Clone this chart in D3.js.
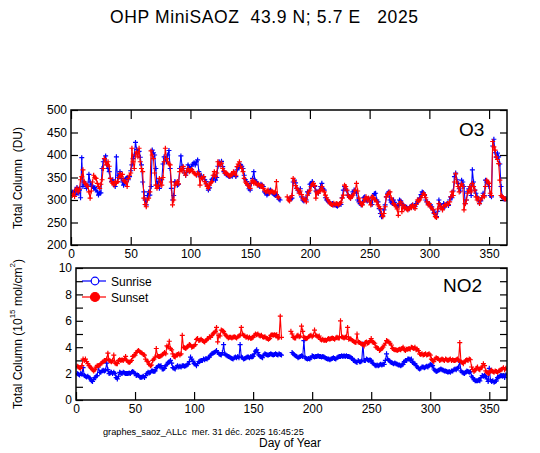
<!DOCTYPE html>
<html><head><meta charset="utf-8">
<script src="https://cdn.jsdelivr.net/npm/d3@7"></script>
<style>body{margin:0;background:#fff}svg{display:block}text{font-family:"Liberation Sans",Arial,sans-serif}</style>
</head><body>
<svg id="c" width="540" height="453"></svg>
<script>
// Day of year for each value: index + 1 (days 1..364); null = no measurement
const o3Sunrise = [
318,316,320,312,328,315,322,305,394,330,
340,334,326,330,357,340,333,330,326,328,
322,318,311,315,316,370,385,392,398,378,
370,363,348,341,345,338,330,396,341,355,
363,348,340,333,338,348,350,345,352,365,
378,392,400,428,412,405,408,395,378,340,
318,300,289,310,318,311,330,411,405,400,
370,333,341,326,338,345,380,396,392,385,
400,410,370,326,300,310,341,338,333,335,
370,398,375,370,360,355,362,378,372,370,
375,380,383,378,385,389,363,352,355,348,
352,345,341,333,322,327,340,346,348,355,
344,350,375,385,380,386,374,363,360,356,
355,353,352,355,353,357,359,352,367,372,
374,378,375,370,355,345,341,333,325,322,
337,348,363,344,341,335,333,330,335,333,
330,318,315,311,314,320,322,318,315,312,
310,312,307,302,300,null,null,null,null,null,
null,null,303,302,304,340,344,338,326,322,
318,325,307,300,298,303,300,318,315,335,
337,341,332,330,320,318,315,322,330,337,
325,322,305,300,298,296,292,290,292,289,
290,288,286,289,292,290,305,322,330,325,
320,311,308,304,310,318,322,320,315,300,
296,292,289,295,305,307,300,298,304,300,
295,290,310,314,315,300,296,281,270,263,
265,278,289,307,315,318,300,295,292,300,
295,289,285,288,300,298,292,289,285,283,
284,281,280,285,287,289,284,286,292,296,
300,305,312,318,316,310,300,296,292,289,
289,285,278,272,268,263,275,300,290,285,
280,292,285,290,292,288,300,307,305,320,
352,360,345,337,325,320,344,340,330,292,
300,318,325,330,310,367,340,322,315,307,
300,292,298,305,315,310,344,340,337,330,
310,307,420,435,405,395,404,396,380,330,
307,303,302,303];

const o3Sunset = [
310,315,308,322,326,318,324,345,352,367,
340,337,333,330,318,304,320,340,355,350,
348,337,330,326,335,345,370,392,385,378,
385,375,348,340,337,333,341,338,341,350,
359,352,357,344,341,340,330,348,355,360,
415,385,370,400,407,396,415,385,370,363,
304,290,285,300,304,318,409,400,392,360,
333,326,330,348,340,333,350,385,415,392,
385,380,378,340,289,300,333,338,341,336,
363,370,365,374,360,355,365,370,363,365,
368,363,360,358,355,360,358,333,350,348,
352,341,336,330,326,333,338,341,355,363,
352,360,385,380,378,382,370,365,359,360,
358,355,352,356,358,363,360,355,374,380,
385,375,370,363,348,340,337,333,330,326,
340,344,337,340,337,333,335,333,330,333,
326,322,318,320,322,315,318,320,318,316,
318,341,307,305,null,null,null,null,null,null,
307,300,298,305,310,348,342,332,326,322,
315,320,312,304,300,302,296,311,318,322,
330,335,337,332,304,318,315,320,322,330,
322,318,311,305,300,296,292,290,289,293,
289,292,291,289,292,295,304,311,333,330,
322,311,306,304,307,311,315,322,337,320,
304,296,290,289,296,303,307,300,304,296,
289,307,306,300,300,296,289,285,281,270,
263,270,285,307,312,315,318,305,300,292,
289,285,280,266,292,296,274,289,281,285,
280,278,281,285,283,289,285,281,290,300,
298,300,305,310,315,312,305,296,289,292,
285,282,278,270,263,261,280,292,287,282,
278,285,290,288,292,290,296,307,318,310,
340,358,340,330,318,330,336,330,278,292,
300,315,322,330,318,337,330,322,307,300,
304,292,300,305,310,307,330,344,340,337,
315,310,430,418,411,396,390,381,344,310,
307,305,303,302];

const no2Sunrise = [
2.0,1.95,1.9,2.0,1.95,2.45,1.85,1.8,1.75,1.8,
1.7,1.65,1.45,1.4,1.55,1.7,1.8,1.85,2.5,2.1,
2.1,2.2,2.25,2.2,2.25,2.8,2.3,2.0,2.05,2.1,
2.0,2.1,2.0,1.7,1.6,1.8,2.1,2.05,2.0,2.1,
2.05,2.0,2.0,2.0,2.05,2.0,2.1,2.15,2.1,2.0,
1.85,1.9,1.85,1.75,1.7,1.75,1.8,1.7,1.85,2.0,
2.1,2.05,2.1,2.2,2.2,2.15,2.2,2.45,2.5,2.6,
2.55,2.6,2.35,2.35,2.4,2.6,2.7,2.85,2.9,3.0,
2.8,2.45,2.4,2.35,2.5,2.6,2.5,2.55,2.5,2.6,
2.6,2.55,2.6,2.65,2.7,2.9,3.25,3.1,2.95,2.75,
2.7,2.6,2.75,2.9,2.95,3.0,3.0,3.1,3.05,3.15,
3.1,3.2,3.25,3.4,3.5,3.55,3.6,3.65,3.75,3.6,
3.5,3.45,3.4,3.6,4.2,3.5,3.4,3.35,3.3,3.25,
3.2,3.15,3.1,3.2,3.25,3.2,3.3,3.2,4.2,3.25,
3.2,3.1,3.15,3.2,3.25,3.25,3.2,3.3,3.25,3.3,
3.5,3.7,3.8,3.6,3.4,3.3,3.25,3.2,3.4,3.5,
3.45,3.4,3.4,3.45,3.5,3.45,3.4,3.45,3.5,3.45,
3.4,3.5,3.45,3.4,null,null,null,null,null,null,
null,null,3.6,3.5,3.4,3.35,3.3,3.2,3.25,3.3,
3.35,3.3,4.5,3.2,3.15,3.1,3.15,3.1,3.2,3.35,
3.3,3.25,3.3,3.3,3.35,3.3,3.3,3.25,3.3,3.25,
3.2,3.15,3.1,3.1,3.05,3.1,3.15,3.2,3.15,3.1,
3.2,3.25,3.3,3.3,3.35,3.3,3.35,3.3,3.35,3.3,
3.3,3.25,3.2,3.15,3.0,2.95,2.9,2.85,3.0,2.9,
2.9,2.95,4.25,3.0,3.0,3.1,3.05,3.0,3.05,3.0,
2.8,2.75,2.65,2.6,2.65,2.6,2.65,2.7,2.65,2.7,
2.7,3.0,3.5,3.1,3.0,2.9,2.85,2.8,2.75,2.8,
2.75,2.7,2.65,2.65,2.6,2.65,2.7,2.9,3.0,3.0,
3.1,3.1,3.05,3.1,2.85,2.8,2.75,2.6,2.5,2.4,
2.35,2.4,2.5,2.5,2.45,2.5,2.55,2.5,2.6,2.7,
2.65,2.6,2.35,2.25,2.15,2.2,2.25,2.3,2.35,2.3,
2.25,2.2,2.2,2.15,2.1,2.15,2.1,2.2,2.2,2.3,
2.35,2.3,2.4,2.5,2.9,2.2,2.1,2.05,2.0,2.1,
2.2,2.15,2.1,2.15,1.8,1.7,1.55,1.45,1.45,1.45,
1.5,1.45,1.7,1.85,1.8,1.85,1.8,1.6,1.4,2.4,
1.5,1.4,1.45,1.35,1.4,1.45,1.7,1.75,1.8,1.85,
1.8,1.85,1.7,1.9];

const no2Sunset = [
2.55,2.5,2.45,2.4,2.6,3.1,3.0,3.1,2.9,2.75,
2.6,2.5,2.4,2.3,2.2,2.3,2.5,2.6,2.6,2.65,
2.75,2.8,2.9,3.0,3.0,3.1,3.55,3.0,2.95,2.9,
3.0,3.4,2.8,2.75,2.75,3.0,3.05,3.0,3.05,3.0,
3.1,3.3,3.0,2.9,2.85,2.9,3.0,3.3,3.35,3.4,
3.6,3.7,3.75,3.65,3.6,3.55,3.45,3.4,3.1,2.95,
2.9,2.7,2.6,2.65,3.0,3.1,3.25,3.9,3.35,3.3,
3.3,3.35,3.4,3.5,3.6,3.5,4.1,4.0,4.45,3.9,
3.8,3.5,3.3,3.25,3.4,3.45,3.5,3.4,3.5,4.9,
4.0,3.95,3.9,4.0,4.1,4.2,4.15,4.0,4.05,4.1,
4.2,4.6,4.65,4.5,4.55,4.6,4.5,4.45,4.4,4.5,
4.6,4.65,4.8,4.75,4.9,5.0,5.1,5.2,5.5,4.4,
4.9,4.85,5.3,5.25,5.2,5.0,4.9,4.8,4.7,4.75,
4.75,4.7,4.75,4.8,4.75,4.7,4.8,4.85,4.9,5.5,
5.0,4.9,4.85,4.75,4.8,4.7,4.75,4.65,4.7,4.75,
4.9,5.0,4.95,5.0,4.9,4.85,4.9,4.8,4.75,4.8,
4.7,4.65,4.6,4.65,4.9,4.95,4.9,4.95,4.9,4.95,
4.7,4.75,6.35,4.75,null,null,null,null,null,null,
null,5.2,5.0,4.75,4.7,4.7,4.85,4.9,4.8,4.85,
5.6,5.2,4.75,4.7,4.65,4.7,4.8,4.85,4.9,4.8,
4.9,5.3,4.9,4.85,4.8,4.85,4.6,4.55,4.6,4.5,
4.55,4.5,4.6,4.65,4.6,4.65,4.7,4.65,4.6,4.7,
4.75,4.7,4.7,6.0,4.8,4.75,4.7,4.75,4.8,5.5,
4.6,4.65,4.6,4.5,4.45,4.4,4.35,5.0,4.4,4.35,
4.3,4.25,4.2,4.1,4.35,4.4,4.3,4.35,4.5,4.65,
4.4,4.35,4.3,4.0,3.95,3.9,3.75,3.8,3.9,4.0,
4.15,4.3,4.5,4.45,4.4,4.3,4.15,3.9,3.85,3.8,
3.8,3.75,3.8,3.85,3.8,3.9,4.0,3.8,3.75,3.85,
3.85,3.9,3.85,4.0,3.95,3.9,4.0,3.8,3.85,3.75,
3.5,3.45,3.5,3.4,3.45,3.5,3.4,3.45,3.5,3.4,
3.1,3.0,2.9,3.1,3.2,3.15,3.1,3.0,3.05,3.1,
3.05,3.0,3.1,3.05,3.0,3.05,3.1,3.0,3.05,3.0,
3.0,3.05,3.1,3.0,4.35,2.9,2.85,2.75,2.9,3.0,
3.05,3.0,3.1,3.05,2.5,2.3,2.15,2.25,2.4,2.5,
2.35,2.3,2.45,2.5,2.75,2.6,2.2,2.1,2.0,2.05,
2.2,2.25,2.15,2.1,2.2,2.15,2.1,2.2,2.25,2.3,
2.35,2.45,2.3,2.4];

const xTicks = [0,50,100,150,200,250,300,350];
const o3Ticks = [200,250,300,350,400,450,500];
const no2Ticks = [0,1,2,3,4,5,6,7,8,9,10];
const no2Labels = [0,2,4,6,8,10];
const seriesNames = ["Sunrise","Sunset"];
const titleText = "OHP MiniSAOZ  43.9 N; 5.7 E   2025";
const footerText = "graphes_saoz_ALLc  mer. 31 déc. 2025 16:45:25";

const BLUE = "#0000ff", RED = "#ff0000";
const svg = d3.select("#c");
const font = "'Liberation Sans',Arial,sans-serif";

svg.append("text").attr("x",110).attr("y",23).attr("font-size",17.5)
  .attr("textLength",308).attr("lengthAdjust","spacing")
  .style("white-space","pre").attr("xml:space","preserve").text(titleText);

function panel(opts){
  const {x, y, yTicks, yLabels, topTicks, label, labelX, labelY, data} = opts;
  const g = svg.append("g");
  const [x0,x1] = x.range(), [y0,y1] = y.range();
  const bottom = d3.axisBottom(x).tickValues(xTicks).tickSizeInner(-8).tickSizeOuter(0).tickPadding(4);
  g.append("g").attr("transform",`translate(0,${y0})`).call(bottom)
    .call(s=>{s.select(".domain").remove(); s.selectAll("text").attr("font-size",12).attr("font-family",font);});
  if(topTicks){
    const top = d3.axisTop(x).tickValues(xTicks).tickSizeInner(-9).tickSizeOuter(0).tickFormat("");
    g.append("g").attr("transform",`translate(0,${y1})`).call(top).call(s=>s.select(".domain").remove());
  }
  const left = d3.axisLeft(y).tickValues(yTicks).tickSizeInner(-7).tickSizeOuter(0).tickPadding(4)
    .tickFormat(d=> yLabels.includes(d) ? d : "");
  g.append("g").attr("transform",`translate(${x0},0)`).call(left)
    .call(s=>{s.select(".domain").remove(); s.selectAll("text").attr("font-size",12).attr("font-family",font);});
  const right = d3.axisRight(y).tickValues(yTicks).tickSizeInner(-7).tickSizeOuter(0).tickFormat("");
  g.append("g").attr("transform",`translate(${x1},0)`).call(right).call(s=>s.select(".domain").remove());
  g.selectAll(".tick line").attr("stroke","#000").attr("stroke-width",1.2);

  const clipId = "clip"+label;
  svg.append("clipPath").attr("id",clipId).append("rect")
    .attr("x",x0).attr("y",y1).attr("width",x1-x0).attr("height",y0-y1);
  const dg = g.append("g").attr("clip-path",`url(#${clipId})`);
  data.forEach(([vals,color])=>{
    const pts = vals.map((v,i)=>({d:i+1,v}));
    const line = d3.line().defined(p=>p.v!=null).x(p=>x(p.d)).y(p=>y(p.v));
    dg.append("path").attr("d",line(pts)).attr("fill","none").attr("stroke",color).attr("stroke-width",1.1);
    const s = 2.5;
    const mk = pts.filter(p=>p.v!=null).map(p=>{const px=x(p.d), py=y(p.v);
      return `M${px-s},${py}h${2*s}M${px},${py-s}v${2*s}`;}).join("");
    dg.append("path").attr("d",mk).attr("fill","none").attr("stroke",color).attr("stroke-width",1.2);
  });
  g.append("rect").attr("x",x0).attr("y",y1).attr("width",x1-x0).attr("height",y0-y1)
    .attr("fill","none").attr("stroke","#000").attr("stroke-width",1.5);
  g.append("text").attr("x",labelX).attr("y",labelY).attr("font-size",19).text(label);
}

const xO3 = d3.scaleLinear().domain([0,365]).range([71,507]);
const yO3 = d3.scaleLinear().domain([200,500]).range([245,110]);
const xNO2 = d3.scaleLinear().domain([0,365]).range([76,507]);
const yNO2 = d3.scaleLinear().domain([0,10]).range([400,268]);

panel({x:xO3, y:yO3, yTicks:o3Ticks, yLabels:o3Ticks, topTicks:true, label:"O3", labelX:459, labelY:136,
  data:[[o3Sunrise,BLUE],[o3Sunset,RED]]});
panel({x:xNO2, y:yNO2, yTicks:no2Ticks, yLabels:no2Labels, topTicks:false, label:"NO2", labelX:443, labelY:292,
  data:[[no2Sunrise,BLUE],[no2Sunset,RED]]});

svg.append("text").attr("transform","translate(22,178) rotate(-90)").attr("text-anchor","middle")
  .attr("font-size",12).attr("xml:space","preserve").style("white-space","pre").text("Total Column  (DU)");
const t2 = svg.append("text").attr("transform","translate(22,334) rotate(-90)").attr("text-anchor","middle")
  .attr("font-size",12);
t2.append("tspan").text("Total Column (10");
t2.append("tspan").attr("font-size",8).attr("dy",-7).text("15");
t2.append("tspan").attr("dy",7).text(" mol/cm");
t2.append("tspan").attr("font-size",8).attr("dy",-7).text("2");
t2.append("tspan").attr("dy",7).text(")");

const lg = svg.append("g");
seriesNames.forEach((n,i)=>{
  const ly = 281 + i*16, c = i===0?BLUE:RED;
  lg.append("line").attr("x1",82).attr("x2",106).attr("y1",ly).attr("y2",ly).attr("stroke",c).attr("stroke-width",1.2);
  lg.append("circle").attr("cx",95).attr("cy",ly).attr("r",i===0?3.8:4.5)
    .attr("fill",i===0?"#fff":c).attr("stroke",c).attr("stroke-width",1.2);
  lg.append("text").attr("x",111).attr("y",ly+4.5).attr("font-size",12).text(n);
});

svg.append("text").attr("x",103).attr("y",435).attr("font-size",9.2).attr("xml:space","preserve")
  .style("white-space","pre").text(footerText);
svg.append("text").attr("x",290).attr("y",446.5).attr("text-anchor","middle").attr("font-size",12).text("Day of Year");
</script>
</body></html>
